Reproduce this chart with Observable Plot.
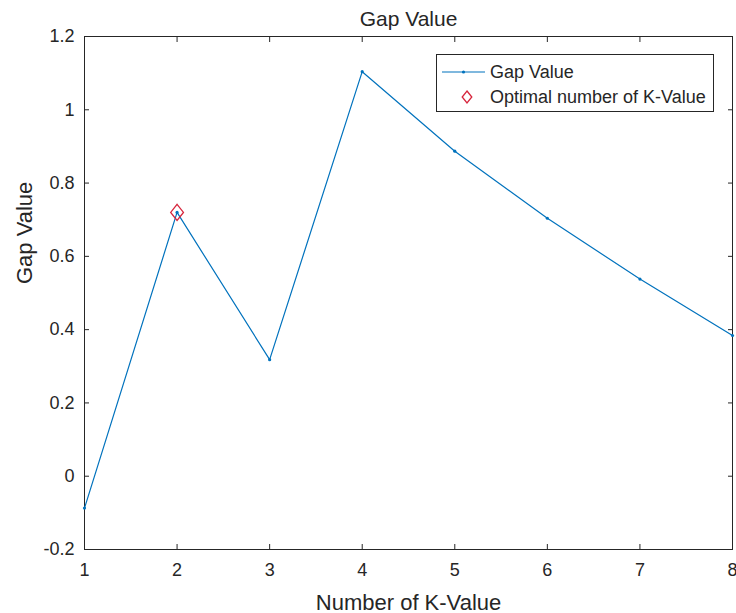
<!DOCTYPE html>
<html><head><meta charset="utf-8">
<script src="https://cdn.jsdelivr.net/npm/d3@7"></script>
<script src="https://cdn.jsdelivr.net/npm/@observablehq/plot@0.6"></script>
<style>
body{margin:0;background:#fff;}
#wrap{position:relative;width:736px;height:613px;font-family:"Liberation Sans",Arial,Helvetica,sans-serif;}
#legend{position:absolute;left:436px;top:54px;}
</style></head><body><div id="wrap"></div>
<script>
const kValues = [1, 2, 3, 4, 5, 6, 7, 8];
const gapValues = [-0.087, 0.72, 0.318, 1.104, 0.887, 0.704, 0.538, 0.384];
const optimalK = [2];
const optimalGap = [0.72];
const xTicks = [1, 2, 3, 4, 5, 6, 7, 8];
const xTickLabels = ["1", "2", "3", "4", "5", "6", "7", "8"];
const yTicks = [-0.2, 0, 0.2, 0.4, 0.6, 0.8, 1, 1.2];
const yTickLabels = ["-0.2", "0", "0.2", "0.4", "0.6", "0.8", "1", "1.2"];
const titleText = "Gap Value";
const xLabel = "Number of K-Value";
const yLabel = "Gap Value";
const legendLabels = ["Gap Value", "Optimal number of K-Value"];

const lineColor = "#0072BD";
const diamondColor = "#D7263D";
const ink = "#262626";
const font = '"Liberation Sans", Arial, Helvetica, sans-serif';

const data = kValues.map((k, i) => ({k, gap: gapValues[i]}));
const optimal = optimalK.map((k, i) => ({k, gap: optimalGap[i]}));

const matlabDiamond = {
  draw(ctx, size) {
    const h = Math.sqrt(size / Math.PI);
    const w = h * 0.8;
    ctx.moveTo(0, -h); ctx.lineTo(w, 0); ctx.lineTo(0, h); ctx.lineTo(-w, 0); ctx.closePath();
  }
};

const chart = Plot.plot({
  width: 736, height: 613,
  marginLeft: 84, marginRight: 4, marginTop: 36, marginBottom: 64,
  style: {fontFamily: font, fontSize: "18px", color: ink, background: "transparent", overflow: "visible"},
  x: {domain: [1, 8]},
  y: {domain: [-0.2, 1.2]},
  marks: [
    Plot.frame({stroke: ink, strokeWidth: 1}),
    Plot.axisX(xTicks, {anchor: "bottom", tickSize: -5, tickPadding: 19, tickFormat: d => xTickLabels[xTicks.indexOf(d)], label: null, stroke: ink, fill: ink}),
    Plot.axisX(xTicks, {anchor: "top", tickSize: -5, tickFormat: () => "", label: null, stroke: ink}),
    Plot.axisY(yTicks, {anchor: "left", tickSize: -5, tickPadding: 15, tickFormat: d => yTickLabels[yTicks.indexOf(d)], label: null, stroke: ink, fill: ink}),
    Plot.axisY(yTicks, {anchor: "right", tickSize: -5, tickFormat: () => "", label: null, stroke: ink}),
    Plot.line(data, {x: "k", y: "gap", stroke: lineColor, strokeWidth: 1.2}),
    Plot.dot(data, {x: "k", y: "gap", r: 1.6, fill: lineColor, stroke: null}),
    Plot.dot(optimal, {x: "k", y: "gap", r: 8, symbol: matlabDiamond, stroke: diamondColor, strokeWidth: 1.3, fill: "none"}),
    Plot.text([titleText], {frameAnchor: "top", dy: -11, lineAnchor: "bottom", fontSize: 21, fill: ink}),
    Plot.text([xLabel], {frameAnchor: "bottom", dy: 60, lineAnchor: "bottom", fontSize: 22, fill: ink}),
    Plot.text([yLabel], {frameAnchor: "left", dx: -53, dy: -9, rotate: -90, lineAnchor: "bottom", fontSize: 22, fill: ink})
  ]
});

const wrap = document.getElementById("wrap");
wrap.appendChild(chart);

// Legend overlay
const lg = d3.create("svg").attr("id", "legend").attr("width", 279).attr("height", 59)
  .style("font-family", font).style("font-size", "18px");
lg.append("rect").attr("x", 0.5).attr("y", 0.5).attr("width", 277).attr("height", 57)
  .attr("fill", "#fff").attr("stroke", ink).attr("stroke-width", 1);
lg.append("line").attr("x1", 6).attr("x2", 49).attr("y1", 18).attr("y2", 18)
  .attr("stroke", lineColor).attr("stroke-width", 1.2);
lg.append("circle").attr("cx", 27.5).attr("cy", 18).attr("r", 1.6).attr("fill", lineColor);
lg.append("text").attr("x", 54).attr("y", 24).attr("fill", ink).text(legendLabels[0]);
const dp = d3.path(); matlabDiamond.draw(dp, Math.PI * 6 * 6);
lg.append("path").attr("d", dp.toString()).attr("transform", "translate(31,43)")
  .attr("fill", "none").attr("stroke", diamondColor).attr("stroke-width", 1.3);
lg.append("text").attr("x", 54).attr("y", 49).attr("fill", ink).text(legendLabels[1]);
wrap.appendChild(lg.node());
</script>
</body></html>
